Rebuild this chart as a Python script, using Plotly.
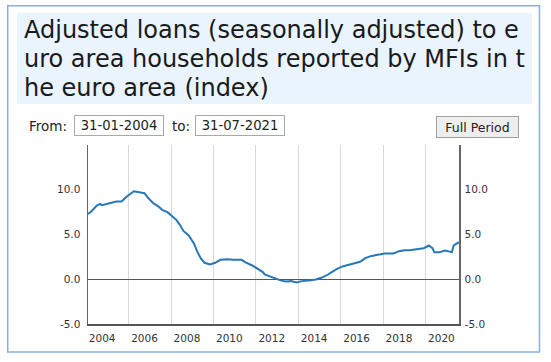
import plotly.graph_objects as go
import pandas as pd

# ---- data ----
months = [
    "2004-01", "2004-03", "2004-06", "2004-08", "2004-09", "2004-12",
    "2005-03", "2005-05", "2005-08", "2005-11",
    "2006-03", "2006-06", "2006-09", "2006-11",
    "2007-02", "2007-05", "2007-07", "2007-10",
    "2008-01", "2008-03", "2008-05", "2008-07", "2008-10",
    "2009-01", "2009-03", "2009-05", "2009-07", "2009-10",
    "2010-01", "2010-04", "2010-08", "2010-11",
    "2011-04", "2011-06", "2011-10",
    "2012-01", "2012-04", "2012-05", "2012-09", "2012-11",
    "2013-02", "2013-05", "2013-08", "2013-11",
    "2014-02", "2014-06", "2014-10",
    "2015-01", "2015-04", "2015-07", "2015-10",
    "2016-01", "2016-05", "2016-08", "2016-11",
    "2017-02", "2017-05", "2017-09",
    "2018-01", "2018-06", "2018-09", "2018-12",
    "2019-03", "2019-07", "2019-11",
    "2020-02", "2020-04", "2020-05", "2020-08", "2020-11",
    "2021-02", "2021-03", "2021-04", "2021-06", "2021-07",
]
values = [
    7.3, 7.6, 8.24, 8.42, 8.27, 8.42,
    8.5, 8.68, 8.68, 9.24,
    9.83, 9.72, 9.61, 9.1,
    8.5, 8.12, 7.76, 7.5,
    7.0, 6.64, 6.08, 5.4, 4.89,
    3.96, 3.03, 2.29, 1.84, 1.65,
    1.84, 2.17, 2.24, 2.17,
    2.17, 1.91, 1.54,
    1.17, 0.8, 0.54, 0.24, 0.16,
    -0.13, -0.25, -0.21, -0.36,
    -0.21, -0.13, -0.02,
    0.16, 0.42, 0.8, 1.17,
    1.43, 1.65, 1.8, 1.95,
    2.36, 2.58, 2.73,
    2.88, 2.88, 3.14, 3.25,
    3.25, 3.36, 3.47,
    3.77, 3.47, 3.03, 3.03, 3.21,
    3.03, 3.03, 3.77, 3.96, 4.14,
]
year_labels = ["2004", "2006", "2008", "2010", "2012", "2014", "2016", "2018", "2020"]
y_ticks = [-5, 0, 5, 10]
y_ticktext = ["-5.0", "0.0", "5.0", "10.0"]
date_from = "31-01-2004"
date_to = "31-07-2021"
title_lines = ["Adjusted loans (seasonally adjusted) to e",
               "uro area households reported by MFIs in t",
               "he euro area (index)"]

dates = pd.to_datetime(months) + pd.offsets.MonthEnd(0)

W, H = 551, 362
ML, MR, MT, MB = 88, 92, 145, 38
PW, PH = W - ML - MR, H - MT - MB


def px(x):
    return (x - ML) / PW


def py(y):
    return (H - MB - y) / PH


FONT = "DejaVu Sans"
LINE_BLUE = "#2878b8"

fig = go.Figure()
fig.add_trace(go.Scatter(x=dates, y=values, mode="lines",
                         line=dict(color=LINE_BLUE, width=2),
                         showlegend=False, hoverinfo="skip"))
fig.add_trace(go.Scatter(x=dates, y=values, mode="none", yaxis="y2",
                         showlegend=False, hoverinfo="skip"))

grid_years = [f"{y}-01-01" for y in year_labels]
label_pos = [f"{y}-10-01" for y in year_labels]

axis_font = dict(family=FONT, size=10.5, color="#333333")

title_annotations = [
    dict(text=line, xref="paper", yref="paper",
         x=px(22), y=py(14 + i * 29.2), xanchor="left", yanchor="top", align="left",
         showarrow=False, font=dict(family=FONT, size=24, color="#1a1a1a"))
    for i, line in enumerate(title_lines)
]

fig.update_layout(
    width=W, height=H,
    margin=dict(l=ML, r=MR, t=MT, b=MB, pad=0),
    paper_bgcolor="white", plot_bgcolor="white",
    font=dict(family=FONT),
    xaxis=dict(
        range=[pd.Timestamp("2004-01-31"), pd.Timestamp("2021-07-31")],
        tickvals=label_pos, ticktext=year_labels,
        showgrid=False, ticks="", tickfont=axis_font,
        showline=True, linecolor="#555555", linewidth=1.5,
        zeroline=False, ticklabelstandoff=4,
        minor=dict(tickvals=grid_years, showgrid=True,
                   gridcolor="#d9d9d9", gridwidth=1, ticks=""),
    ),
    yaxis=dict(
        range=[-5, 15], tickvals=y_ticks, ticktext=y_ticktext,
        showgrid=False, ticks="", tickfont=axis_font,
        showline=True, linecolor="#666666", linewidth=1.5,
        zeroline=True, zerolinecolor="#555555", zerolinewidth=1.5,
        ticklabelstandoff=4,
    ),
    yaxis2=dict(
        range=[-5, 15], tickvals=y_ticks, ticktext=y_ticktext,
        overlaying="y", side="right",
        showgrid=False, ticks="", tickfont=axis_font,
        showline=True, linecolor="#666666", linewidth=1.5,
        zeroline=False, ticklabelstandoff=2,
    ),
    shapes=[
        # outer panel border
        dict(type="rect", xref="paper", yref="paper",
             x0=px(7.7), x1=px(539.5), y0=py(352), y1=py(5.7),
             line=dict(color="#8aafe0", width=1.5), fillcolor="rgba(0,0,0,0)",
             layer="below"),
        # title background
        dict(type="rect", xref="paper", yref="paper",
             x0=px(17), x1=px(532), y0=py(104), y1=py(13),
             line=dict(width=0), fillcolor="#e9f4fe", layer="below"),
    ],
    annotations=title_annotations + [
        dict(text="From:", xref="paper", yref="paper",
             x=px(27), y=py(126), xanchor="left", yanchor="middle",
             showarrow=False, font=dict(family=FONT, size=13.5, color="#222222")),
        dict(text=date_from, xref="paper", yref="paper",
             x=px(119.3), y=py(125.5), xanchor="center", yanchor="middle",
             showarrow=False, width=86, height=17, borderpad=1, borderwidth=1,
             bordercolor="#a9a9a9", bgcolor="white",
             font=dict(family=FONT, size=13.2, color="#222222")),
        dict(text="to:", xref="paper", yref="paper",
             x=px(169.5), y=py(126), xanchor="left", yanchor="middle",
             showarrow=False, font=dict(family=FONT, size=13.5, color="#222222")),
        dict(text=date_to, xref="paper", yref="paper",
             x=px(239.8), y=py(125.5), xanchor="center", yanchor="middle",
             showarrow=False, width=86, height=17, borderpad=1, borderwidth=1,
             bordercolor="#a9a9a9", bgcolor="white",
             font=dict(family=FONT, size=13.2, color="#222222")),
        dict(text="Full Period", xref="paper", yref="paper",
             x=px(477.3), y=py(126.9), xanchor="center", yanchor="middle",
             showarrow=False, width=79, height=18, borderpad=1, borderwidth=1,
             bordercolor="#a0a0a0", bgcolor="#eeeeee",
             font=dict(family=FONT, size=12.5, color="#222222")),
    ],
)

fig.write_html("out.html",
               config={"displayModeBar": False, "staticPlot": True},
               post_script="document.body.style.margin='0';document.body.style.padding='0';")
